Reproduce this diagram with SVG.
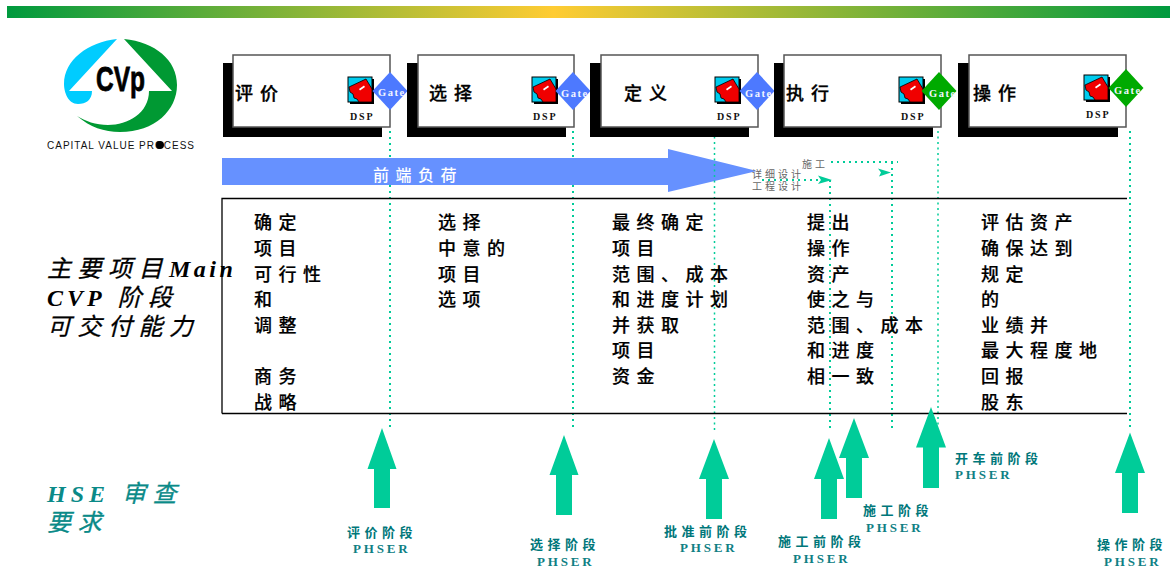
<svg xmlns="http://www.w3.org/2000/svg" xmlns:xlink="http://www.w3.org/1999/xlink" width="1170" height="571" viewBox="0 0 1170 571">
<style>
text{font-family:"Noto Sans CJK SC","Liberation Sans",sans-serif}
.box{fill:#fff;stroke:#555;stroke-width:1.5}
.shadow{fill:#000}
.title{font-size:18px;font-weight:500;letter-spacing:7px;fill:#000;stroke:#000;stroke-width:.3}
.dsp{font-family:"Liberation Serif",serif;font-size:10px;font-weight:700;letter-spacing:1.8px;fill:#111}
.gate{font-family:"Liberation Serif",serif;font-size:10.500px;font-weight:700;letter-spacing:1.500px;fill:#f2f5ff}
.body{font-size:18px;font-weight:500;letter-spacing:6.500px;fill:#000;stroke:#000;stroke-width:.2}
.dot{fill:none;stroke:#00cc99;stroke-width:2;stroke-dasharray:2 4}
.thin{stroke-width:1.500;stroke-dasharray:2 3.500}
.up{fill:#00cc99}
.cap{font-size:13px;font-weight:700;letter-spacing:4.500px;fill:#00777a}
.ph{font-family:"Liberation Serif",serif;font-size:13px;font-weight:700;letter-spacing:2.800px;fill:#0f8084}
.grey{font-size:10px;letter-spacing:3px;fill:#666}
.side{font-size:24px;font-style:italic;font-weight:400;letter-spacing:6.500px;stroke-width:.3}
.lat{font-family:"Liberation Serif",serif;font-weight:700;stroke:none}
</style>
<defs>
<linearGradient id="bar" x1="0" x2="1" y1="0" y2="0">
<stop offset="0" stop-color="#009a3e"/><stop offset=".47" stop-color="#ffcc33"/><stop offset="1" stop-color="#009a3e"/>
</linearGradient>
<g id="icon">
<rect x="2" y="2" width="24" height="25" fill="#000"/>
<rect x="0" y="0" width="24" height="25" fill="#00ccee" stroke="#000" stroke-width="1"/>
<path d="M1 10 L18 2 L24 12 L24 25 L11 25 L9 22 L6 21 L5 17 L2 15Z" fill="#f00000" stroke="#000" stroke-width=".8"/>
<path d="M11 12 L16 8.500 L17 10 L12 13.500Z" fill="#fff"/>
</g>
</defs>
<rect x="7" y="6" width="1163" height="12" fill="url(#bar)"/>
<g id="logo">
<path d="M117 39 L69 91 L92 91 C92 100 86 104 78 104 C68 104 64 92 64 84 C64 60 88 42 117 39Z" fill="#00ccff"/>
<path d="M124 39 L172 91 L149 91 C149 113 128 125 108 125 C96 125 85 121 77 116 C90 127 104 132 120 132 C155 132 177 110 177 85 C177 60 155 42 124 39Z" fill="#009933"/>
<text x="96" y="91" font-size="35" font-weight="700" stroke="#000" stroke-width=".8" textLength="49" lengthAdjust="spacingAndGlyphs" style="font-family:'Liberation Sans',sans-serif">CVp</text>
<text x="47" y="149" font-size="10" textLength="147" lengthAdjust="spacing" style="font-family:'Liberation Sans',sans-serif" fill="#111">CAPITAL VALUE PROCESS</text>
<circle cx="160" cy="145" r="4" fill="#000"/>
</g>
<g id="connectors">
<path class="dot" d="M390 131V428"/>
<path class="dot" d="M573 131V428"/>
<path class="dot" d="M830 180V428"/>
<path class="dot" d="M892 162V428"/>
<path class="dot" d="M1130 131V428"/>
<path class="dot thin" d="M938 131V426"/>
<path class="dot" d="M762 180H820"/>
<path class="dot" d="M831 162H898"/>
<path d="M818 175.500L832 180L818 184L821 180Z" fill="#00cc99"/>
<path d="M878 168.500L891 172.500L879 176.500L881 172.500Z" fill="#00cc99"/>
</g>
<g id="load-arrow">
<path d="M222 158H668V149L757 171L668 192V185H222Z" fill="#6691ff"/>
<text x="373" y="181" font-size="16" font-weight="500" letter-spacing="6.500" fill="#fff">前端负荷</text>
</g>
<path class="dot thin" d="M714.500 131V430"/>
<g id="phase-1"><rect class="shadow" x="223" y="63" width="159" height="74"/><rect class="box" x="233" y="55" width="157" height="72"/><text class="title" x="235" y="100">评价</text><use xlink:href="#icon" x="348" y="77"/><text class="dsp" x="350" y="120">DSP</text><path d="M390 72L407.500 91L390 110L372.500 91Z" fill="#4d79ff"/><text class="gate" x="378" y="96">Gate</text></g>
<g id="phase-2"><rect class="shadow" x="407" y="63" width="159" height="74"/><rect class="box" x="418" y="55" width="156" height="72"/><text class="title" x="429" y="100">选择</text><use xlink:href="#icon" x="532" y="77"/><text class="dsp" x="533" y="120">DSP</text><path d="M573 72L590.500 91L573 110L555.500 91Z" fill="#4d79ff"/><text class="gate" x="561" y="97">Gate</text></g>
<g id="phase-3"><rect class="shadow" x="590" y="63" width="159" height="74"/><rect class="box" x="601" y="55" width="157" height="72"/><text class="title" x="624" y="100">定义</text><use xlink:href="#icon" x="715" y="77"/><text class="dsp" x="717" y="120">DSP</text><path d="M757 72L774.500 91L757 110L739.500 91Z" fill="#4d79ff"/><text class="gate" x="745" y="97">Gate</text></g>
<g id="phase-4"><rect class="shadow" x="774" y="63" width="159" height="74"/><rect class="box" x="784" y="55" width="157" height="72"/><text class="title" x="786" y="100">执行</text><use xlink:href="#icon" x="899" y="77"/><text class="dsp" x="901" y="120">DSP</text><path d="M939 72L956.500 91L939 110L921.500 91Z" fill="#00aa00"/><text class="gate" x="929" y="97">Gate</text></g>
<g id="phase-5"><rect class="shadow" x="958" y="63" width="160" height="74"/><rect class="box" x="969" y="55" width="157" height="72"/><text class="title" x="973" y="100">操作</text><use xlink:href="#icon" x="1084" y="75"/><text class="dsp" x="1086" y="118">DSP</text><path d="M1126 69L1143.500 88L1126 107L1108.500 88Z" fill="#00aa00"/><text class="gate" x="1114" y="94">Gate</text></g>
<g id="small-labels">
<text class="grey" x="802" y="168">施工</text>
<text class="grey" x="752" y="178">详细设计</text>
<text class="grey" x="752" y="190">工程设计</text>
</g>
<g id="table">
<path d="M222 413.500V198.500H1127" fill="none" stroke="#000" stroke-width="1.300"/>
<path d="M222 413.500H1127" fill="none" stroke="#000" stroke-width="1.300"/>
</g>
<g id="col-1"><text class="body" x="254" y="229">确定</text><text class="body" x="254" y="255">项目</text><text class="body" x="254" y="281">可行性</text><text class="body" x="254" y="306">和</text><text class="body" x="254" y="332">调整</text><text class="body" x="254" y="383">商务</text><text class="body" x="254" y="409">战略</text></g>
<g id="col-2"><text class="body" x="438" y="229">选择</text><text class="body" x="438" y="255">中意的</text><text class="body" x="438" y="281">项目</text><text class="body" x="438" y="306">选项</text></g>
<g id="col-3"><text class="body" x="612" y="229">最终确定</text><text class="body" x="612" y="255">项目</text><text class="body" x="612" y="281">范围、成本</text><text class="body" x="612" y="306">和进度计划</text><text class="body" x="612" y="332">并获取</text><text class="body" x="612" y="357">项目</text><text class="body" x="612" y="383">资金</text></g>
<g id="col-4"><text class="body" x="807" y="229">提出</text><text class="body" x="807" y="255">操作</text><text class="body" x="807" y="281">资产</text><text class="body" x="807" y="306">使之与</text><text class="body" x="807" y="332">范围、成本</text><text class="body" x="807" y="357">和进度</text><text class="body" x="807" y="383">相一致</text></g>
<g id="col-5"><text class="body" x="981" y="229">评估资产</text><text class="body" x="981" y="255">确保达到</text><text class="body" x="981" y="281">规定</text><text class="body" x="981" y="306">的</text><text class="body" x="981" y="332">业绩并</text><text class="body" x="981" y="357">最大程度地</text><text class="body" x="981" y="383">回报</text><text class="body" x="981" y="409">股东</text></g>
<g id="side-labels">
<text class="side" x="47" y="277" fill="#000" stroke="#000">主要项目<tspan class="lat" letter-spacing="3.500">Main</tspan></text>
<text class="side" x="47" y="306" fill="#000" stroke="#000"><tspan class="lat" letter-spacing="4">CVP</tspan> 阶段</text>
<text class="side" x="47" y="335" fill="#000" stroke="#000">可交付能力</text>
<text class="side" x="47" y="502" fill="#0a8a88" stroke="#0a8a88"><tspan class="lat" letter-spacing="5">HSE</tspan> 审查</text>
<text class="side" x="47" y="531" fill="#0a8a88" stroke="#0a8a88">要求</text>
</g>
<g id="phser-1"><path class="up" d="M382 428L396.500 469H390V508H374V469H367.500Z"/><text class="cap" x="347" y="537">评价阶段</text><text class="ph" x="353" y="553">PHSER</text></g>
<g id="phser-2"><path class="up" d="M564 435L578.500 475H572V515H556V475H549.500Z"/><text class="cap" x="530" y="549">选择阶段</text><text class="ph" x="537" y="566">PHSER</text></g>
<g id="phser-3"><path class="up" d="M714 439L729 479H722V519H706V479H699Z"/><text class="cap" x="664" y="536">批准前阶段</text><text class="ph" x="680" y="552">PHSER</text></g>
<g id="phser-4"><path class="up" d="M829 438L844 479H837V519H821V479H814Z"/><text class="cap" x="778" y="546">施工前阶段</text><text class="ph" x="793" y="563">PHSER</text></g>
<g id="phser-5"><path class="up" d="M854 418L869 458H862V498H846V458H839Z"/><text class="cap" x="863" y="515">施工阶段</text><text class="ph" x="866" y="532">PHSER</text></g>
<g id="phser-6"><path class="up" d="M931 407L946 447.500H939V488H923V447.500H916Z"/><text class="cap" x="955" y="463">开车前阶段</text><text class="ph" x="955" y="479">PHSER</text></g>
<g id="phser-7"><path class="up" d="M1130 432.500L1145 473H1138V513H1122V473H1115Z"/><text class="cap" x="1097" y="549">操作阶段</text><text class="ph" x="1104" y="566">PHSER</text></g>
</svg>
